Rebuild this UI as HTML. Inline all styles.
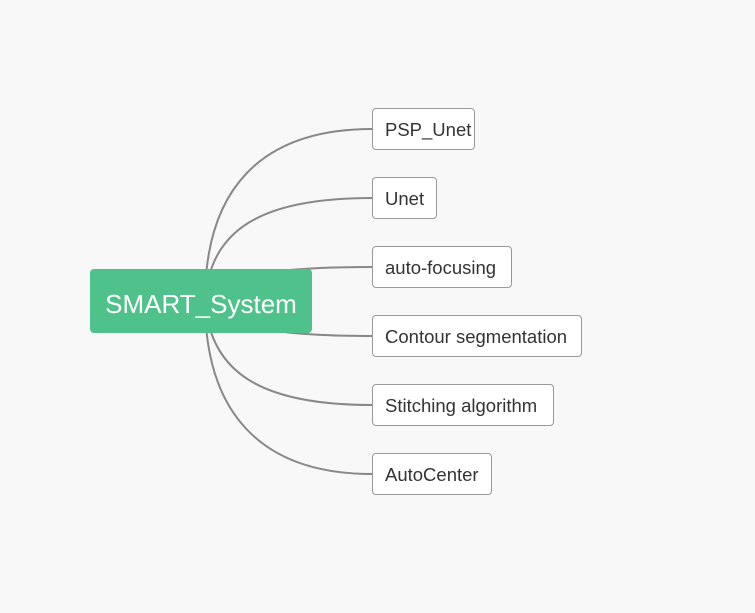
<!DOCTYPE html>
<html><head><style>
body{margin:0;width:755px;height:613px;background:#f8f8f8;font-family:"Liberation Sans","DejaVu Sans",sans-serif;position:relative;overflow:hidden}
.n{position:absolute;left:372px;border:1px solid #999;border-radius:4px;background:#fff;box-sizing:border-box;height:42px;line-height:41px;padding-left:12px;font-size:18.5px;color:#333;white-space:nowrap}
.c{position:absolute;left:90px;top:269px;width:222px;height:64px;background:#4fc28b;border-radius:4px;color:#fff;font-size:26px;line-height:70px;text-align:center}
</style></head><body>
<svg width="755" height="613" style="position:absolute;left:0;top:0" fill="none" stroke="#888" stroke-width="2">
<path d="M205,301 C205,190 260,129 372,129"/>
<path d="M205,301 C210,230 260,198 372,198"/>
<path d="M205,301 C230,270 300,267 372,267"/>
<path d="M205,301 C230,332 300,336 372,336"/>
<path d="M205,301 C210,372 260,405 372,405"/>
<path d="M205,301 C205,412 260,474 372,474"/>
</svg>
<div class="c">SMART_System</div>
<div class="n" style="top:108px;width:103px">PSP_Unet</div>
<div class="n" style="top:177px;width:65px">Unet</div>
<div class="n" style="top:246px;width:140px">auto-focusing</div>
<div class="n" style="top:315px;width:210px">Contour segmentation</div>
<div class="n" style="top:384px;width:182px">Stitching algorithm</div>
<div class="n" style="top:453px;width:120px">AutoCenter</div>
</body></html>
